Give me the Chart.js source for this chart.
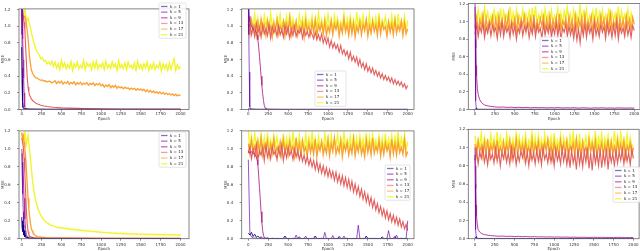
<!DOCTYPE html>
<html><head><meta charset="utf-8">
<script src="https://cdn.jsdelivr.net/npm/chart.js@4.4.1/dist/chart.umd.min.js"></script>
<style>
html,body{margin:0;padding:0;background:#fff;width:640px;height:251px;overflow:hidden;position:relative}
canvas{position:absolute}
</style></head><body>
<canvas id="c1" width="214" height="122" style="left:0px;top:0px"></canvas>
<canvas id="c2" width="213" height="122" style="left:215px;top:0px"></canvas>
<canvas id="c3" width="200" height="122" style="left:440px;top:0px"></canvas>
<canvas id="c4" width="214" height="129" style="left:0px;top:122px"></canvas>
<canvas id="c5" width="213" height="129" style="left:215px;top:122px"></canvas>
<canvas id="c6" width="200" height="129" style="left:440px;top:122px"></canvas>
<script>
// ---------- categories / labels ----------
const kLabels = ['k = 1','k = 5','k = 9','k = 13','k = 17','k = 21'];
const xTickVals = [0,250,500,750,1000,1250,1500,1750,2000];
const yTickVals = [0.0,0.2,0.4,0.6,0.8,1.0,1.2];
const epochs = [0,20,40,60,80,100,120,140,160,180,200,220,240,260,280,300,320,340,360,380,400,420,440,460,480,500,520,540,560,580,600,620,640,660,680,700,720,740,760,780,800,820,840,860,880,900,920,940,960,980,1000,1020,1040,1060,1080,1100,1120,1140,1160,1180,1200,1220,1240,1260,1280,1300,1320,1340,1360,1380,1400,1420,1440,1460,1480,1500,1520,1540,1560,1580,1600,1620,1640,1660,1680,1700,1720,1740,1760,1780,1800,1820,1840,1860,1880,1900,1920,1940,1960,1980,2000];
const tailEpochs = [0,5,10,15,20,30,40,60,80,100,120,150,200,250,300,350,400,450,500,550,600,650,700,750,800,850,900,950,1000,1050,1100,1150,1200,1250,1300,1350,1400,1450,1500,1550,1600,1650,1700,1750,1800,1850,1900,1950,2000];

// ---------- panel 1 (top left) ----------
const p1_k1_ep = [0,5,10,20,40,100,300,2000];
const p1_k1 = [0.75,0.35,0.1,0.02,0.008,0.004,0.002,0.001];
const p1_k5_ep = [0,3,6,10,15,20,40,100,2000];
const p1_k5 = [1.35,0.9,0.5,0.15,0.03,0.01,0.004,0.002,0.001];
const p1_k9_ep = [0,5,10,15,20,25,30,35,40,50,60,80,100,200,500,1000,2000];
const p1_k9 = [1.3,1.2,1.05,0.85,0.6,0.38,0.2,0.08,0.03,0.012,0.007,0.004,0.003,0.002,0.001,0.001,0.001];
const p1_k13_ep = [0,10,20,30,40,50,60,70,80,90,100,120,140,160,180,200,240,280,320,400,500,600,800,1000,1200,1500,2000];
const p1_k13 = [1.2,1.18,1.12,1.05,0.95,0.75,0.55,0.38,0.27,0.21,0.17,0.13,0.105,0.088,0.076,0.066,0.052,0.043,0.036,0.027,0.02,0.016,0.011,0.008,0.006,0.005,0.004];
const p1_k17 = [1.15,1.1,1.12,1.02,0.86,0.62,0.48,0.43,0.4,0.38,0.375,0.36,0.35,0.355,0.34,0.345,0.33,0.34,0.335,0.32,0.33,
0.345,0.312,0.336,0.318,0.342,0.305,0.33,0.314,0.338,0.302,0.326,0.31,0.334,0.298,0.322,0.306,0.328,0.296,0.318,0.304,0.325,0.292,0.314,0.3,0.32,0.288,0.31,0.295,0.316,0.284,
0.302,0.27,0.295,0.276,0.3,0.262,0.285,0.268,0.29,0.255,0.278,0.26,0.272,0.248,0.268,0.252,0.262,0.24,0.258,0.244,0.255,0.232,0.25,0.236,0.245,
0.228,0.242,0.215,0.236,0.21,0.228,0.204,0.222,0.198,0.215,0.192,0.21,0.188,0.205,0.182,0.198,0.178,0.194,0.172,0.188,0.168,0.184,0.164,0.178,0.166];
const p1_k21 = [1.12,1.08,1.22,1.06,1.1,1.02,0.93,0.86,0.78,0.72,0.68,0.66,0.61,0.62,0.58,0.59,0.55,0.57,0.54,0.58,0.52,
0.57,0.5,0.55,0.48,0.59,0.51,0.56,0.49,0.54,0.5,0.58,0.47,0.55,0.51,0.57,0.49,0.53,0.5,0.59,0.48,0.56,0.52,0.55,0.48,0.57,0.5,0.58,0.49,0.54,0.51,
0.56,0.48,0.58,0.5,0.54,0.49,0.57,0.51,0.55,0.47,0.59,0.5,0.54,0.49,0.56,0.48,0.57,0.51,0.53,0.49,0.56,0.47,0.58,0.5,0.54,
0.48,0.55,0.5,0.57,0.47,0.54,0.49,0.56,0.48,0.53,0.5,0.57,0.46,0.55,0.49,0.54,0.47,0.56,0.48,0.55,0.61,0.47,0.54,0.49,0.52];

// ---------- panel 2 (top middle) ----------
const p2_k1_ep = [0,20,100,500,1000,2000];
const p2_k1 = [0.01,0.004,0.002,0.001,0.001,0.001];
const p2_k5_ep = [0,4,8,12,16,20,30,60,200,2000];
const p2_k5 = [1.3,1.2,0.9,0.45,0.12,0.03,0.008,0.003,0.001,0.001];
const p2_k9_ep = [0,10,20,40,60,80,100,110,120,130,140,150,160,170,180,190,200,210,220,240,260,300,400,1000,2000];
const p2_k9 = [1.25,1.12,1.05,1.0,0.97,0.95,0.93,0.9,0.84,0.75,0.64,0.52,0.4,0.29,0.19,0.11,0.05,0.02,0.01,0.005,0.003,0.002,0.001,0.001,0.001];
const p2_k13 = [0.98,1.03,0.9,1.0,0.88,1.04,0.92,0.99,0.87,1.02,
0.91,0.97,0.89,1.03,0.86,1.0,0.92,0.98,0.88,1.01,
0.9,0.96,0.87,1.02,0.91,0.99,0.86,0.97,0.89,1.0,
0.88,0.95,0.92,0.98,0.86,0.96,0.89,0.94,0.87,0.95,0.9,
0.85,0.93,0.84,0.9,0.83,0.91,0.8,0.87,0.79,0.86,
0.75,0.83,0.74,0.8,0.73,0.78,0.69,0.77,0.67,0.72,
0.65,0.7,0.61,0.69,0.59,0.64,0.57,0.63,0.53,0.6,
0.51,0.56,0.48,0.55,0.46,0.51,0.44,0.5,0.42,0.47,
0.4,0.45,0.38,0.43,0.36,0.41,0.35,0.39,0.33,0.38,
0.31,0.36,0.3,0.34,0.29,0.33,0.27,0.31,0.25,0.29];
const p2_k17 = [1.03,0.9,1.07,0.94,1.01,0.88,1.05,0.92,1.09,0.95,
1.02,0.89,1.06,0.93,1.0,0.87,1.04,0.96,1.08,0.91,
1.01,0.94,1.05,0.88,1.03,0.92,1.1,0.9,1.02,0.95,
1.06,0.89,1.0,0.93,1.04,0.87,1.07,0.94,1.01,0.9,
1.05,0.92,1.08,0.88,1.02,0.95,1.04,0.91,1.06,0.89,
1.0,0.93,1.07,0.9,1.03,0.96,1.05,0.88,1.01,0.92,
1.09,0.94,1.02,0.89,1.06,0.91,1.04,0.87,1.0,0.93,
1.05,0.9,1.03,0.95,1.08,0.88,1.01,0.92,1.06,0.94,
1.02,0.89,1.07,0.91,1.04,0.96,1.0,0.88,1.05,0.93,
1.03,0.9,1.08,0.92,1.01,0.95,1.06,0.89,1.04,0.91,0.97];
const p2_k21 = [1.12,0.97,1.08,1.0,1.15,0.95,1.1,0.99,1.06,0.94,
1.13,1.01,1.09,0.96,1.16,0.98,1.07,0.93,1.11,1.0,
1.14,0.96,1.08,1.02,1.12,0.95,1.17,0.99,1.09,0.97,
1.06,0.94,1.13,1.0,1.1,0.96,1.15,0.98,1.07,1.01,
1.12,0.95,1.09,0.99,1.16,0.97,1.08,0.93,1.11,1.0,
1.14,0.98,1.07,0.95,1.13,1.01,1.1,0.96,1.06,0.99,
1.15,0.94,1.09,1.0,1.12,0.97,1.08,0.95,1.17,0.98,
1.1,1.02,1.13,0.96,1.07,0.99,1.14,0.94,1.09,1.0,
1.11,0.97,1.16,0.95,1.08,1.01,1.12,0.98,1.06,0.96,
1.13,0.99,1.1,0.94,1.15,0.97,1.07,1.0,1.12,0.95,1.07];

// ---------- panel 3 (top right) ----------
const p3_k1_ep = [0,10,50,2000];
const p3_k1 = [0.01,0.003,0.001,0.001];
const p3_k5_ep = [0,3,6,10,15,20,40,2000];
const p3_k5 = [1.17,0.8,0.4,0.1,0.02,0.006,0.002,0.001];
const p3_k9 = [1.25,0.95,0.7,0.5,0.38,0.24,0.17,0.11,0.08,0.063,0.052,0.043,0.035,
0.03,0.026,0.029,0.024,0.027,0.022,0.025,0.021,0.024,0.019,0.023,0.02,0.022,0.018,0.021,0.019,0.022,0.017,0.02,0.018,0.021,0.016,0.02,0.018,0.015,0.019,0.017,0.02,0.016,0.018,0.015,0.019,0.017,0.016,0.018,0.015];
const p3_k13 = [0.86,0.97,0.83,0.95,0.88,0.99,0.82,0.94,0.87,0.98,
0.84,0.96,0.89,0.93,0.81,0.97,0.85,1.0,0.83,0.95,
0.88,0.94,0.82,0.98,0.86,0.96,0.8,0.93,0.87,0.99,
0.84,0.95,0.89,0.97,0.82,0.94,0.86,1.0,0.83,0.96,
0.88,0.93,0.81,0.98,0.85,0.95,0.87,0.97,0.82,0.94,
0.86,0.99,0.84,0.96,0.8,0.93,0.88,0.97,0.83,0.95,
0.85,0.94,0.81,0.96,0.79,0.92,0.76,0.95,0.84,0.98,
0.82,0.96,0.87,0.94,0.8,0.99,0.85,0.93,0.83,0.97,
0.88,0.95,0.81,0.98,0.86,0.94,0.82,0.96,0.84,1.0,
0.8,0.95,0.87,0.93,0.83,0.97,0.85,0.94,0.82,0.96,0.9];
const p3_k17 = [0.93,1.05,0.9,1.02,0.95,1.08,0.89,1.04,0.92,1.01,
0.96,1.06,0.88,1.03,0.91,1.07,0.94,1.02,0.89,1.05,
0.93,1.09,0.9,1.01,0.95,1.04,0.88,1.06,0.92,1.03,
0.96,1.07,0.89,1.02,0.94,1.05,0.91,1.08,0.88,1.01,
0.93,1.04,0.95,1.06,0.9,1.03,0.92,1.07,0.89,1.02,
0.94,1.05,0.88,1.09,0.91,1.01,0.96,1.04,0.9,1.06,
0.93,1.02,0.87,1.07,0.92,1.03,0.95,1.05,0.89,1.08,
0.91,1.01,0.94,1.06,0.88,1.04,0.93,1.02,0.9,1.07,
0.95,1.03,0.89,1.05,0.92,1.09,0.91,1.01,0.94,1.06,
0.88,1.04,0.93,1.02,0.9,1.07,0.95,1.03,0.91,1.05,0.97];
const p3_k21 = [1.1,0.97,1.14,1.0,1.08,0.95,1.16,1.02,1.11,0.98,
1.07,0.96,1.13,1.01,1.09,0.94,1.15,0.99,1.12,1.03,
1.08,0.97,1.17,1.0,1.1,0.95,1.13,0.98,1.07,1.02,
1.14,0.96,1.09,1.01,1.12,0.94,1.16,0.99,1.18,0.97,
1.08,1.02,1.11,0.95,1.14,1.0,1.09,0.96,1.13,0.98,
1.07,1.01,1.15,0.97,1.1,0.94,1.12,1.03,1.16,0.99,
1.09,0.96,1.13,1.0,1.08,0.95,1.2,0.98,1.11,1.02,
1.14,0.97,1.07,1.01,1.12,0.95,1.16,0.99,1.1,0.96,
1.13,1.0,1.08,0.94,1.15,0.98,1.11,1.02,1.09,0.97,
1.17,0.95,1.12,1.01,1.08,0.99,1.14,0.96,1.1,1.0,1.02];

// ---------- panel 4 (bottom left) ----------
const p4_k1_ep = [0,5,10,15,20,25,30,40,50,60,80,100,150,200,400,2000];
const p4_k1 = [0.24,0.12,0.2,0.08,0.15,0.04,0.09,0.02,0.04,0.01,0.015,0.005,0.004,0.003,0.002,0.001];
const p4_k5_ep = [0,5,10,15,20,25,30,40,60,100,2000];
const p4_k5 = [0.95,0.75,0.85,0.5,0.3,0.12,0.06,0.02,0.008,0.003,0.001];
const p4_k9_ep = [0,10,20,30,40,50,60,80,100,200,2000];
const p4_k9 = [1.0,0.92,0.7,0.45,0.22,0.1,0.04,0.015,0.007,0.003,0.001];
const p4_k13_ep = [0,10,20,30,40,50,60,70,80,90,100,120,150,200,300,2000];
const p4_k13 = [1.12,1.08,1.02,0.9,0.72,0.5,0.3,0.16,0.08,0.045,0.03,0.018,0.01,0.006,0.004,0.002];
const p4_k17_ep = [0,10,20,30,40,50,60,70,80,90,100,110,120,130,140,160,180,200,250,300,400,600,1000,2000];
const p4_k17 = [1.18,1.12,1.15,1.08,1.0,0.9,0.76,0.6,0.45,0.33,0.24,0.17,0.12,0.09,0.07,0.045,0.032,0.024,0.016,0.012,0.009,0.008,0.007,0.006];
const p4_k21 = [1.18,1.06,1.19,1.05,1.15,0.98,0.8,0.62,0.5,0.41,0.35,0.3,0.26,0.235,0.21,0.19,0.178,0.165,0.155,0.148,0.14,0.136,
0.13,0.122,0.129,0.116,0.123,0.11,0.118,0.106,0.113,0.101,
0.108,0.097,0.104,0.093,0.1,0.089,0.096,0.086,0.092,0.083,
0.089,0.079,0.086,0.076,0.082,0.073,0.079,0.07,0.076,0.068,
0.073,0.065,0.07,0.062,0.068,0.06,0.065,0.058,0.063,0.056,
0.061,0.054,0.06,0.053,0.058,0.051,0.057,0.05,0.056,0.049,
0.055,0.048,0.054,0.047,0.053,0.046,0.052,0.045,0.051,0.045,
0.05,0.044,0.049,0.043,0.049,0.042,0.048,0.042,0.047,0.041,
0.047,0.041,0.046,0.04,0.046,0.04,0.045,0.039,0.044];

// ---------- panel 5 (bottom middle) ----------
const p5_k1 = [0.06,0.04,0.07,0.025,0.05,0.015,0.03,0.01,0.02,0.006,
0.004,0.003,0.008,0.003,0.002,0.004,0.003,0.002,0.003,0.002,
0.003,0.002,0.004,0.03,0.003,0.002,0.003,0.002,0.004,0.002,
0.003,0.002,0.02,0.003,0.002,0.004,0.002,0.003,0.002,0.002,
0.003,0.002,0.03,0.002,0.003,0.002,0.004,0.002,0.003,0.002,
0.002,0.003,0.002,0.004,0.002,0.003,0.002,0.025,0.003,0.002,
0.003,0.002,0.004,0.002,0.003,0.002,0.003,0.002,0.004,0.002,
0.003,0.002,0.003,0.002,0.03,0.002,0.003,0.002,0.004,0.002,
0.003,0.002,0.003,0.002,0.02,0.003,0.002,0.004,0.002,0.003,
0.002,0.003,0.025,0.002,0.003,0.002,0.004,0.002,0.003,0.002,0.003];
const p5_k5 = [0.88,0.05,0.02,0.01,0.006,0.004,0.003,0.003,0.002,0.002,
0.002,0.003,0.002,0.002,0.003,0.002,0.002,0.002,0.003,0.002,
0.002,0.003,0.002,0.002,0.002,0.003,0.002,0.002,0.002,0.002,
0.04,0.002,0.003,0.002,0.002,0.002,0.03,0.002,0.003,0.002,
0.002,0.002,0.003,0.002,0.002,0.002,0.003,0.002,0.07,0.002,
0.003,0.002,0.002,0.035,0.002,0.002,0.003,0.002,0.002,0.002,
0.03,0.002,0.003,0.002,0.002,0.002,0.003,0.002,0.002,0.15,
0.002,0.002,0.003,0.002,0.002,0.002,0.003,0.002,0.002,0.002,
0.003,0.002,0.002,0.002,0.002,0.003,0.002,0.002,0.09,0.002,
0.002,0.003,0.002,0.04,0.002,0.002,0.003,0.002,0.002,0.002,0.2];
const p5_k9_ep = [0,20,40,60,80,100,110,120,130,140,150,160,170,180,190,200,220,260,400,2000];
const p5_k9 = [0.98,0.95,0.97,0.95,0.94,0.91,0.88,0.82,0.7,0.57,0.44,0.3,0.18,0.09,0.04,0.015,0.004,0.002,0.001,0.001];
const p5_k13 = [0.95,1.03,0.89,1.0,0.92,1.05,0.88,0.98,0.93,1.02,
0.87,1.04,0.91,0.99,0.89,1.03,0.94,0.97,0.88,1.01,
0.92,1.05,0.87,0.99,0.9,1.02,0.93,0.98,0.88,1.0,0.91,
0.98,0.88,0.96,0.86,0.93,0.84,0.92,0.82,0.89,0.8,
0.87,0.77,0.86,0.75,0.83,0.73,0.81,0.71,0.79,0.69,
0.77,0.68,0.75,0.65,0.74,0.63,0.71,0.61,0.7,0.59,
0.68,0.57,0.66,0.55,0.64,0.52,0.61,0.5,0.58,0.47,
0.55,0.44,0.52,0.41,0.49,0.38,0.46,0.35,0.43,0.32,
0.39,0.29,0.36,0.26,0.33,0.23,0.31,0.21,0.28,0.19,
0.26,0.17,0.24,0.15,0.22,0.13,0.19,0.11,0.16,0.09];
const p5_k17 = [1.06,0.94,1.1,0.97,1.03,0.92,1.08,0.96,1.12,0.93,
1.04,0.98,1.09,0.91,1.05,0.95,1.11,0.94,1.02,0.97,
1.07,0.92,1.1,0.96,1.04,0.93,1.08,0.98,1.03,0.91,
1.12,0.95,1.06,0.93,1.09,0.97,1.02,0.92,1.07,0.96,
1.05,0.94,1.11,0.91,1.04,0.98,1.08,0.93,1.03,0.95,
1.1,0.92,1.06,0.97,1.12,0.94,1.02,0.96,1.09,0.91,
1.05,0.98,1.07,0.93,1.03,0.95,1.11,0.92,1.04,0.97,
1.08,0.94,1.02,0.91,1.1,0.96,1.06,0.93,1.12,0.95,
1.03,0.97,1.09,0.92,1.05,0.94,1.07,0.98,1.04,0.91,
1.11,0.95,1.06,0.93,1.08,0.96,1.02,0.94,1.1,0.92,0.97];
const p5_k21 = [1.2,1.0,1.14,0.97,1.17,1.03,1.11,0.98,1.16,1.01,
1.12,0.96,1.18,1.02,1.1,0.99,1.15,1.04,1.13,0.97,
1.09,1.0,1.17,0.98,1.12,1.03,1.14,0.96,1.19,1.01,
1.11,0.99,1.15,1.02,1.1,0.97,1.16,1.0,1.13,0.98,
1.18,1.03,1.12,0.96,1.14,1.01,1.09,0.99,1.17,1.02,
1.13,0.97,1.15,1.0,1.11,1.04,1.16,0.98,1.12,1.01,
1.19,0.99,1.1,1.03,1.14,0.96,1.17,1.0,1.12,0.98,
1.15,1.02,1.11,0.97,1.18,1.0,1.13,0.99,1.16,1.03,
1.1,0.98,1.14,1.01,1.12,0.96,1.17,1.0,1.11,1.02,
1.15,0.97,1.13,1.01,1.19,0.99,1.12,1.03,1.16,0.98,1.08];

// ---------- panel 6 (bottom right) ----------
const p6_k1_ep = [0,10,50,2000];
const p6_k1 = [0.02,0.005,0.002,0.001];
const p6_k5_ep = [0,3,6,10,15,20,40,2000];
const p6_k5 = [0.92,0.6,0.3,0.1,0.03,0.01,0.003,0.001];
const p6_k9 = [1.0,0.8,0.55,0.37,0.25,0.15,0.1,0.072,0.058,0.05,0.045,0.04,0.034,
0.03,0.027,0.029,0.025,0.027,0.023,0.026,0.022,0.024,0.02,0.023,0.019,0.021,0.018,0.02,0.017,0.019,0.016,0.018,0.015,0.017,0.014,0.016,0.015,0.013,0.016,0.014,0.015,0.013,0.014,0.012,0.015,0.013,0.012,0.014,0.012];
const p6_k13 = [0.86,0.98,0.82,0.95,0.88,1.0,0.84,0.94,0.81,0.97,
0.87,0.93,0.83,0.99,0.85,0.96,0.8,0.95,0.88,0.98,
0.84,0.94,0.82,1.0,0.86,0.97,0.81,0.93,0.85,0.96,
0.89,0.99,0.83,0.95,0.8,0.97,0.86,0.94,0.82,0.98,
0.85,0.96,0.81,1.0,0.87,0.93,0.83,0.97,0.84,0.95,
0.8,0.98,0.86,0.94,0.82,0.99,0.85,0.96,0.81,0.95,
0.78,0.97,0.83,0.93,0.76,0.98,0.82,0.95,0.79,0.96,
0.84,1.0,0.77,0.94,0.75,0.97,0.83,0.95,0.8,0.98,
0.78,0.94,0.82,0.99,0.76,0.96,0.84,0.93,0.8,0.97,
0.83,0.95,0.86,0.98,0.82,0.96,0.85,0.94,0.81,0.99,0.88];
const p6_k17 = [1.04,0.91,1.07,0.95,1.02,0.89,1.06,0.93,1.09,0.9,
1.03,0.96,1.05,0.88,1.08,0.92,1.01,0.94,1.06,0.9,
1.04,0.95,1.07,0.89,1.02,0.93,1.09,0.91,1.05,0.96,
1.03,0.88,1.06,0.94,1.01,0.9,1.08,0.92,1.04,0.95,
1.07,0.89,1.02,0.93,1.05,0.96,1.09,0.91,1.03,0.88,
1.06,0.94,1.01,0.9,1.08,0.95,1.04,0.92,1.07,0.89,
1.02,0.96,1.05,0.91,1.09,0.93,1.03,0.88,1.06,0.94,
1.01,0.9,1.08,0.95,1.04,0.92,1.07,0.89,1.02,0.96,
1.05,0.91,1.03,0.93,1.09,0.88,1.06,0.94,1.01,0.9,
1.08,0.95,1.04,0.92,1.07,0.89,1.02,0.96,1.05,0.91,1.0];
const p6_k21 = [1.13,0.98,1.09,1.01,1.16,0.96,1.11,1.03,1.08,0.97,
1.14,1.0,1.1,0.95,1.17,0.99,1.12,1.02,1.08,0.96,
1.15,1.01,1.11,0.98,1.09,0.95,1.16,1.03,1.12,0.97,
1.1,1.0,1.14,0.96,1.08,1.02,1.17,0.98,1.11,0.95,
1.13,1.01,1.09,0.97,1.15,0.99,1.1,1.03,1.12,0.96,
1.16,0.98,1.08,1.0,1.14,0.95,1.11,1.02,1.09,0.97,
1.13,0.99,1.17,1.01,1.1,0.96,1.15,0.98,1.08,1.03,
1.12,0.95,1.14,1.0,1.09,0.97,1.18,0.99,1.11,1.02,
1.15,0.96,1.1,1.01,1.13,0.98,1.08,0.95,1.18,1.0,
1.12,0.97,1.16,1.02,1.09,0.99,1.14,0.96,1.11,1.01,1.03];

// ---------- styling ----------
const lineColors = ['rgb(13,8,135)','rgba(106,0,168,0.75)','rgb(177,42,144)','rgb(225,95,92)','rgb(250,160,50)','rgb(240,245,40)'];
const legendColors = ['rgba(13,8,135,0.55)','rgba(106,0,168,0.55)','rgba(177,42,144,0.7)','rgba(225,100,98,0.6)','rgba(252,166,54,0.65)','rgba(240,249,33,0.85)'];
const lineWidths = [0.9,0.9,0.9,1.1,1.3,1.35];
const FONT = 'DejaVu Sans';
Chart.defaults.font.family = FONT;

const framePlugin = {
  id: 'frameLegend',
  afterDraw(chart, args, opts) {
    const ctx = chart.ctx, a = chart.chartArea;
    ctx.save();
    ctx.strokeStyle = '#666'; ctx.lineWidth = 0.8;
    ctx.strokeRect(a.left, a.top, a.right - a.left, a.bottom - a.top);
    const L = opts.box;
    if (L) {
      const n = chart.data.datasets.length;
      const h = 7 + (n - 1) * 5.65;
      ctx.fillStyle = 'rgba(255,255,255,0.85)';
      ctx.strokeStyle = '#d4d4d4'; ctx.lineWidth = 0.6;
      ctx.beginPath();
      if (ctx.roundRect) ctx.roundRect(L.x, L.y, L.w, h, 1.5); else ctx.rect(L.x, L.y, L.w, h);
      ctx.fill(); ctx.stroke();
      ctx.font = '4px "' + FONT + '"';
      ctx.textBaseline = 'middle';
      chart.data.datasets.forEach((ds, i) => {
        const y = L.y + 3.5 + i * 5.65;
        ctx.strokeStyle = legendColors[i]; ctx.lineWidth = 1.3;
        ctx.beginPath(); ctx.moveTo(L.x + 2, y); ctx.lineTo(L.x + 8.5, y); ctx.stroke();
        ctx.fillStyle = '#222';
        ctx.fillText(ds.label, L.x + 11, y);
      });
    }
    ctx.restore();
  }
};

function pts(xs, ys) {
  if (xs.length !== ys.length) console.warn('length mismatch', xs.length, ys.length);
  return ys.map((v, i) => ({x: xs[i], y: v}));
}

function makePanel(p) {
  const datasets = p.series.map((s, i) => ({
    label: kLabels[i],
    data: pts(s[0], s[1]),
    borderColor: lineColors[i],
    borderWidth: lineWidths[i],
    pointRadius: 0,
    tension: 0,
    fill: false
  }));
  new Chart(document.getElementById(p.id), {
    type: 'line',
    data: {datasets},
    options: {
      responsive: false, animation: false, devicePixelRatio: 1,
      layout: {padding: {left: 0, right: p.padR, top: p.padT, bottom: 0}},
      plugins: {legend: {display: false}, tooltip: {enabled: false}, frameLegend: {box: p.legend}},
      scales: {
        x: {
          type: 'linear', min: p.xMin, max: p.xMax,
          afterBuildTicks: s => { s.ticks = xTickVals.map(v => ({value: v})); },
          ticks: {font: {size: 4}, color: '#333', padding: p.xTickPad, maxRotation: 0, autoSkip: false, callback: v => String(v)},
          grid: {display: true, drawOnChartArea: false, drawTicks: true, tickLength: 2, color: '#666', lineWidth: 0.7},
          border: {display: false},
          title: {display: true, text: 'Epoch', font: {size: 4}, color: '#333', padding: {top: 0, bottom: p.xTitlePad}},
          afterFit: s => { s.height = p.xH; }
        },
        y: {
          min: 0, max: p.yMax,
          afterBuildTicks: s => { s.ticks = yTickVals.map(v => ({value: v})); },
          ticks: {font: {size: 4}, color: '#333', padding: p.yTickPad, callback: v => v.toFixed(1)},
          grid: {display: true, drawOnChartArea: false, drawTicks: true, tickLength: 2, color: '#666', lineWidth: 0.7},
          border: {display: false},
          title: {display: true, text: 'MSE', font: {size: 4}, color: '#333', padding: {top: p.yTitlePad, bottom: 0}},
          afterFit: s => { s.width = p.yW; }
        }
      }
    },
    plugins: [framePlugin]
  });
}

const topRow = {yMax: 1.21, padT: 0, xH: 12.5, xTickPad: 0, xTitlePad: 0.6};
const botRow = {yMax: 1.2, padT: 7.3, xH: 12.3, xTickPad: 1.5, xTitlePad: 0};

makePanel(Object.assign({}, topRow, {
  id: 'c1', xMin: -34, xMax: 2107, yW: 19, padR: 25, yTitlePad: 0.6, yTickPad: 6.5,
  legend: {x: 159, y: 3, w: 27},
  series: [[p1_k1_ep, p1_k1], [p1_k5_ep, p1_k5], [p1_k9_ep, p1_k9], [p1_k13_ep, p1_k13], [epochs, p1_k17], [epochs, p1_k21]]
}));
makePanel(Object.assign({}, topRow, {
  id: 'c2', xMin: -83, xMax: 2079, yW: 26.7, padR: 14, yTitlePad: 8.6, yTickPad: 6.5,
  legend: {x: 100, y: 71, w: 31},
  series: [[p2_k1_ep, p2_k1], [p2_k5_ep, p2_k5], [p2_k9_ep, p2_k9], [epochs, p2_k13], [epochs, p2_k17], [epochs, p2_k21]]
}));
makePanel(Object.assign({}, topRow, {
  id: 'c3', xMin: -84, xMax: 2072, yW: 28.3, padR: 0, yTitlePad: 11.6, yTickPad: 1,
  legend: {x: 100, y: 37, w: 29},
  series: [[p3_k1_ep, p3_k1], [p3_k5_ep, p3_k5], [tailEpochs, p3_k9], [epochs, p3_k13], [epochs, p3_k17], [epochs, p3_k21]]
}));
makePanel(Object.assign({}, botRow, {
  id: 'c4', xMin: -34, xMax: 2107, yW: 19, padR: 25, yTitlePad: 0.6, yTickPad: 6.5,
  legend: {x: 159, y: 10, w: 27},
  series: [[p4_k1_ep, p4_k1], [p4_k5_ep, p4_k5], [p4_k9_ep, p4_k9], [p4_k13_ep, p4_k13], [p4_k17_ep, p4_k17], [epochs, p4_k21]]
}));
makePanel(Object.assign({}, botRow, {
  id: 'c5', xMin: -83, xMax: 2079, yW: 26.7, padR: 14, yTitlePad: 8.6, yTickPad: 6.5,
  legend: {x: 170, y: 43, w: 25},
  series: [[epochs, p5_k1], [epochs, p5_k5], [p5_k9_ep, p5_k9], [epochs, p5_k13], [epochs, p5_k17], [epochs, p5_k21]]
}));
makePanel(Object.assign({}, botRow, {
  id: 'c6', xMin: -84, xMax: 2072, yW: 28.3, padR: 0, yTitlePad: 11.6, yTickPad: 1,
  legend: {x: 173, y: 45, w: 28},
  series: [[p6_k1_ep, p6_k1], [p6_k5_ep, p6_k5], [tailEpochs, p6_k9], [epochs, p6_k13], [epochs, p6_k17], [epochs, p6_k21]]
}));
</script>
</body></html>
